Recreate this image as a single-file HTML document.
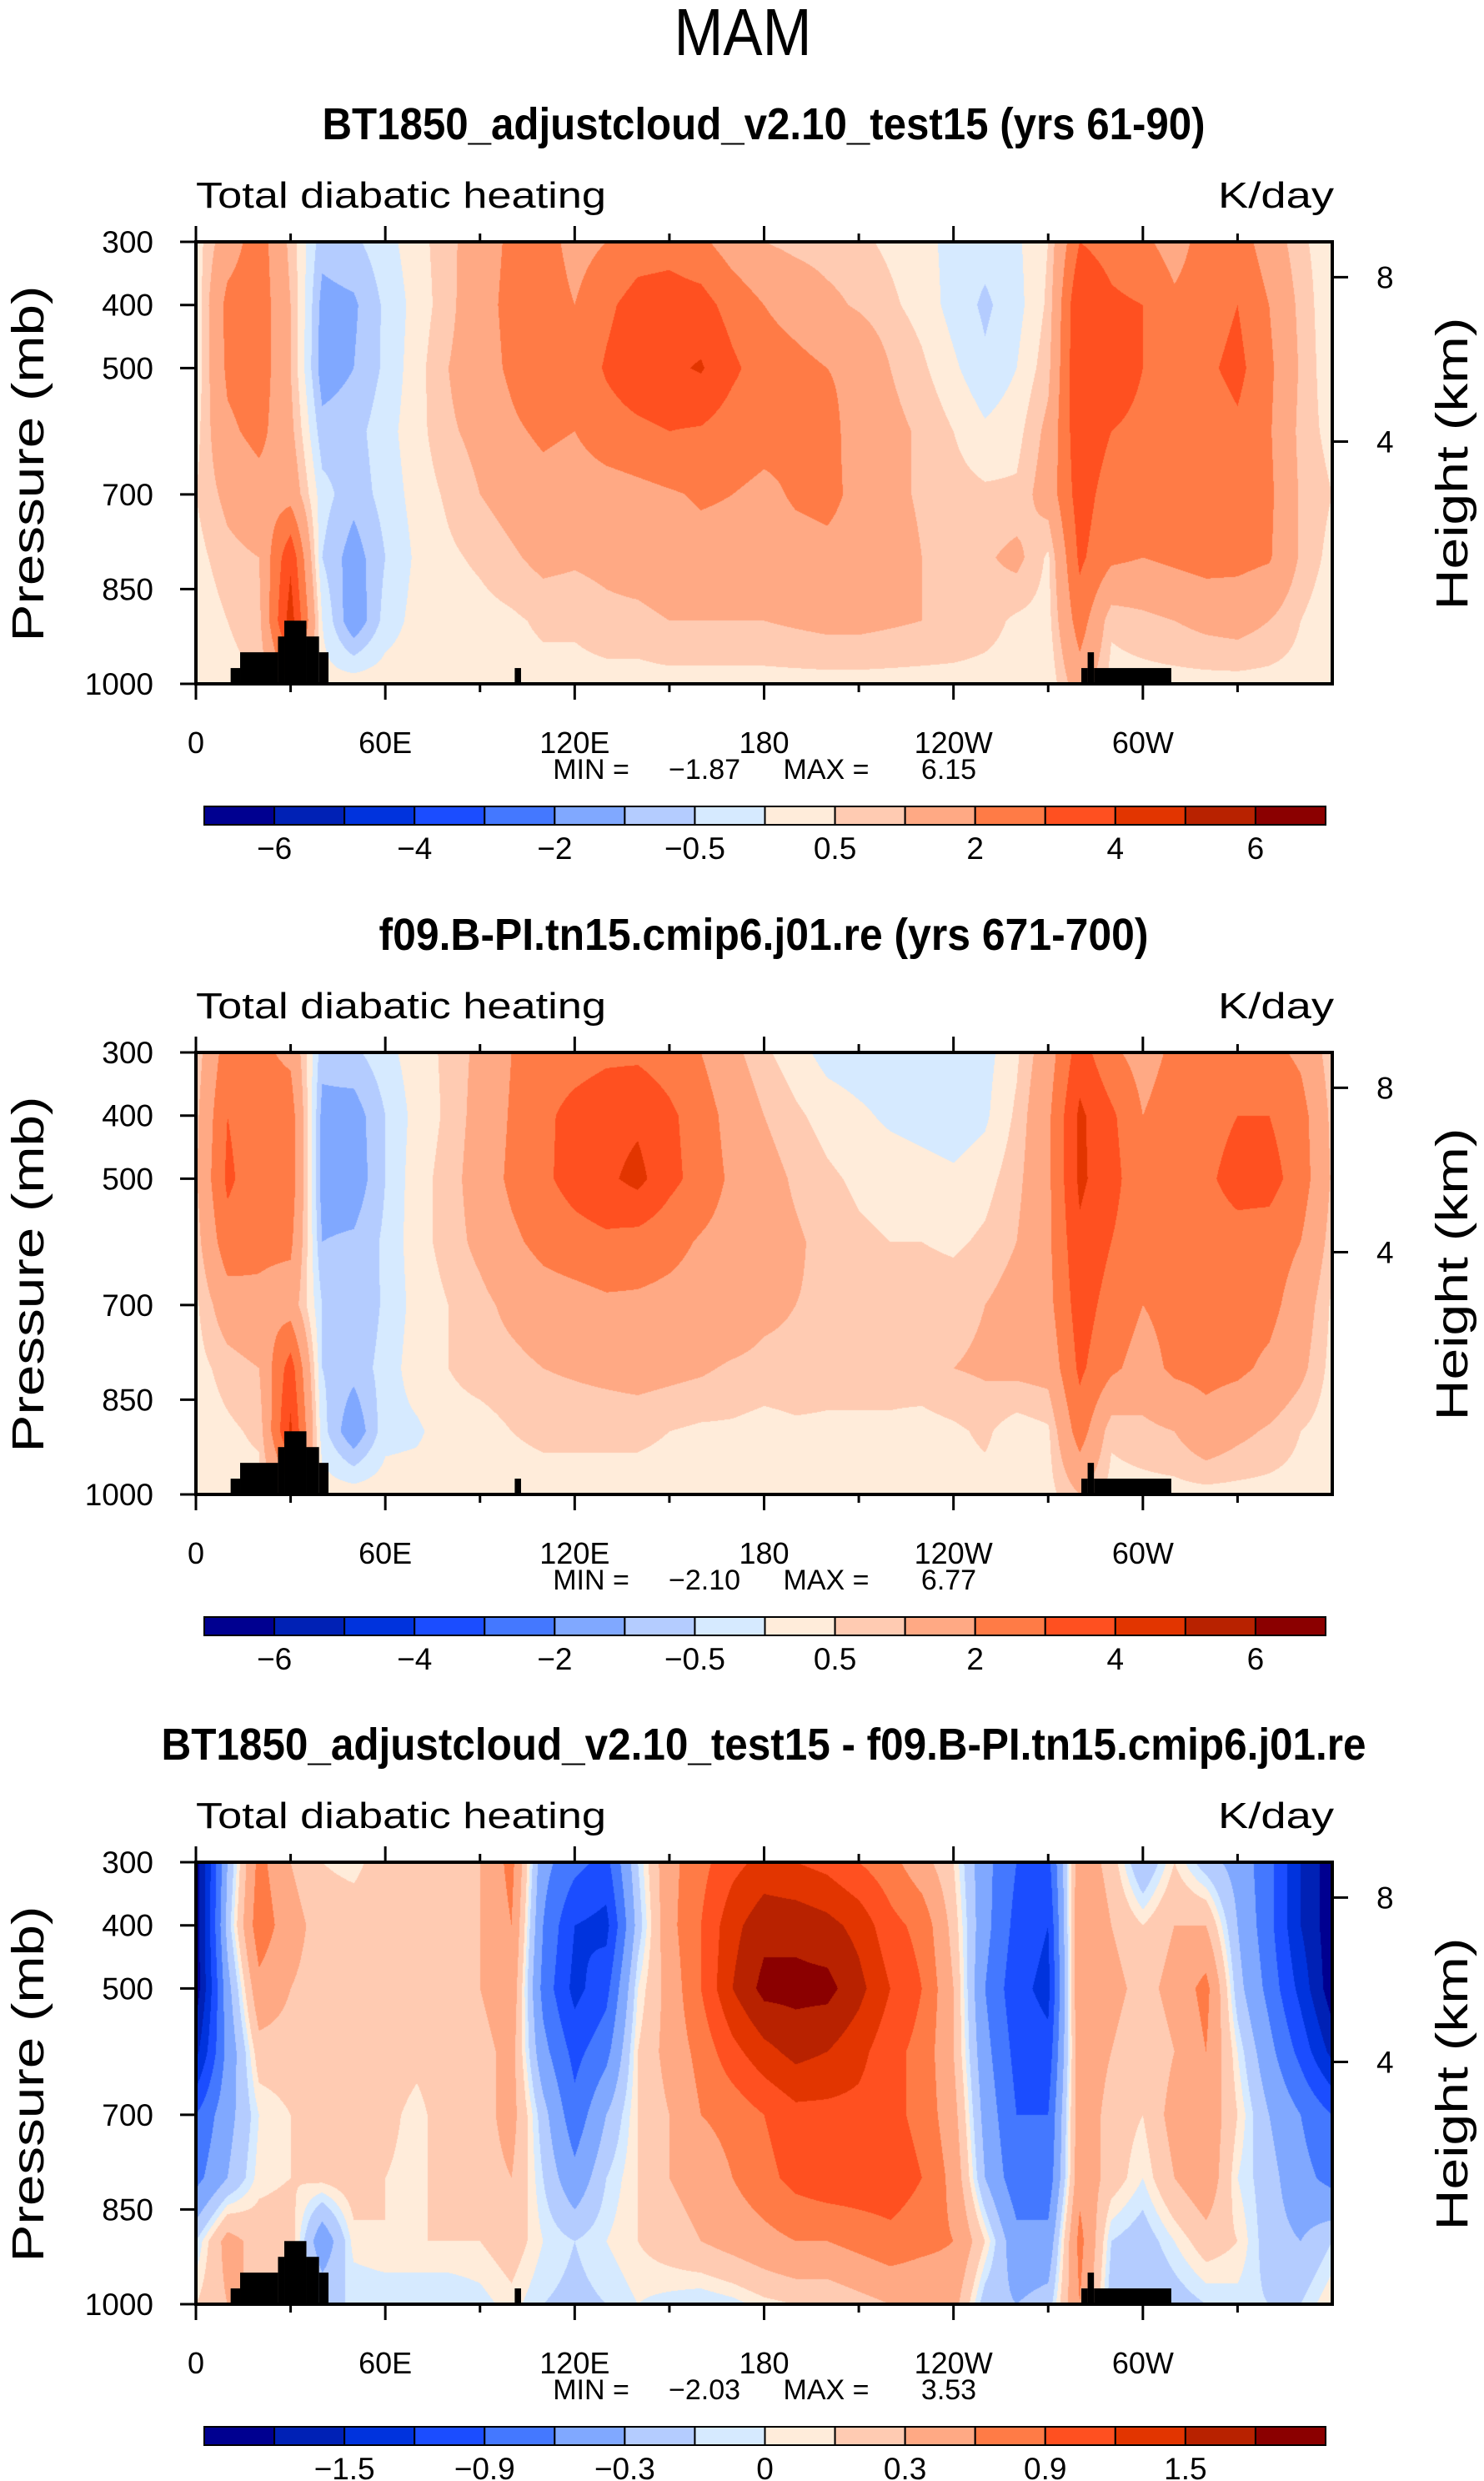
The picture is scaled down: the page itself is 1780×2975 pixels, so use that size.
<!DOCTYPE html>
<html><head><meta charset="utf-8">
<style>
html,body{margin:0;padding:0;background:#fff;}
#wrap{position:relative;width:1780px;height:2975px;overflow:hidden;background:#fff;}
canvas{position:absolute;}
svg{position:absolute;left:0;top:0;}
text{font-family:"Liberation Sans",sans-serif;fill:#000;}
</style></head>
<body>
<div id="wrap">
<canvas id="c0" width="1363" height="530" style="left:235px;top:290px"></canvas>
<canvas id="c1" width="1363" height="530" style="left:235px;top:1262px"></canvas>
<canvas id="c2" width="1363" height="530" style="left:235px;top:2233px"></canvas>
<svg id="s" width="1780" height="2975">
<text x="891" y="66" font-size="80" text-anchor="middle" textLength="165" lengthAdjust="spacingAndGlyphs">MAM</text>
</svg>
</div>
<script>
// ---- data ----
const LONS = [0,10,20,30,40,50,60,70,80,90,100,110,120,130,140,150,160,170,180,190,200,210,220,230,240,250,260,270,280,290,300,310,320,330,340,350,360];
const PLEVS = [300,400,500,600,700,800,900,1000];
const COLORS = ["#000090","#0021B5","#0033DD","#1B4DFF","#4478FF","#80A8FF","#B4CCFF","#D6EAFF","#FFECDA","#FFCBB2","#FFA984","#FF7B46","#FF5020","#E23500","#B82200","#8B0000"];
const LEVELS_ABS = [-6,-5,-4,-3,-2,-1,-0.5,0,0.5,1,2,3,4,5,6];
const LEVELS_DIFF = [-1.8,-1.5,-1.2,-0.9,-0.6,-0.3,-0.1,0,0.1,0.3,0.6,0.9,1.2,1.5,1.8];
const LABELS_ABS = ["−6","−4","−2","−0.5","0.5","2","4","6"];
const LABELS_DIFF = ["−1.5","−0.9","−0.3","0","0.3","0.9","1.5"];
const XTICK_LABELS = ["0","60E","120E","180","120W","60W"];
const XTICK_LONS = [0,60,120,180,240,300];
const PTICKS = [300,400,500,700,850,1000];
const HTICKS = [8,4];
const TITLES = ["BT1850_adjustcloud_v2.10_test15 (yrs 61-90)","f09.B-PI.tn15.cmip6.j01.re (yrs 671-700)","BT1850_adjustcloud_v2.10_test15 - f09.B-PI.tn15.cmip6.j01.re"];
const MINS = ["−1.87","−2.10","−2.03"];
const MAXS = ["6.15","6.77","3.53"];
// terrain: [lon0, lon1, top pressure]
const TERRAIN = [[11,14,975],[14,26,950],[26,28,925],[28,35,900],[35,39,925],[39,42,950],[101,103,975],[280.5,282.5,975],[282.5,284.5,950],[284.5,309,975]];

const F1 = [
[0.2,1.5,2.5,0.8,-0.8,-0.6,-0.2,0.3,0.8,1.5,2.2,2.5,1.6,2.0,2.5,2.6,2.2,1.5,1.0,0.8,0.7,0.6,0.4,0.2,-0.2,-0.3,-0.1,0.5,3.0,2.6,2.2,1.6,2.4,2.5,1.5,0.6,0.2],
[0.1,2.3,2.6,1.0,-1.2,-1.1,-0.4,0.2,0.8,1.6,2.3,2.6,2.0,2.8,3.4,3.5,3.4,2.6,2.0,1.6,1.2,0.9,0.6,0.3,-0.2,-0.6,-0.2,0.6,4.0,3.2,3.0,2.2,2.5,3.0,2.0,0.8,0.1],
[0.1,2.2,2.6,1.0,-1.3,-1.0,-0.4,0.3,1.0,1.5,2.2,3.0,2.4,3.1,3.6,3.8,4.1,3.2,2.5,2.3,2.0,1.8,1.0,0.6,0.1,-0.4,0.0,0.8,4.0,3.5,3.0,2.5,2.8,3.3,2.2,0.9,0.1],
[0.3,1.8,2.3,1.2,-0.8,-0.7,-0.2,0.3,0.9,1.2,1.8,2.2,2.0,2.6,2.8,3.0,2.9,2.5,2.3,2.2,2.3,1.6,1.2,0.9,0.5,0.1,0.3,1.2,3.8,3.0,2.8,2.3,2.4,2.8,2.1,0.8,0.3],
[0.5,1.2,1.6,1.6,-0.3,-0.8,-0.3,0.2,0.6,1.0,1.3,1.6,1.4,1.5,1.7,1.9,2.1,2.0,1.8,2.1,2.2,1.8,1.2,0.9,0.7,0.6,0.6,1.4,3.5,2.5,2.2,2.1,2.3,2.4,2.2,0.9,0.5],
[0.3,0.8,1.0,3.8,-0.5,-1.3,-0.5,0.1,0.4,0.6,0.9,1.2,1.1,1.2,1.4,1.6,1.7,1.7,1.6,1.7,1.8,1.7,1.4,1.0,0.8,0.9,1.2,0.4,3.2,2.2,2.0,2.2,2.4,2.3,2.1,0.9,0.3],
[0.1,0.5,0.8,4.5,0.0,-1.5,-0.3,0.2,0.2,0.3,0.4,0.6,0.6,0.8,0.8,1.0,1.0,1.0,1.0,1.1,1.2,1.2,1.1,1.0,0.9,0.7,0.4,0.3,2.5,0.6,0.8,1.0,1.2,1.3,1.0,0.5,0.1],
[0.3,0.3,0.5,2.0,0.2,0.3,0.3,0.3,0.3,0.3,0.3,0.3,0.3,0.3,0.3,0.3,0.3,0.3,0.3,0.3,0.3,0.3,0.3,0.3,0.3,0.3,0.3,0.1,1.5,0.3,0.3,0.3,0.3,0.3,0.3,0.3,0.3]
];
const F2 = [
[0.6,2.5,2.2,1.8,-0.8,-0.6,-0.2,0.3,0.6,1.2,2.0,2.5,2.6,2.8,2.8,2.5,2.0,1.2,0.6,0.2,-0.2,-0.3,-0.3,-0.3,-0.3,-0.2,0.4,1.5,3.5,2.2,1.6,2.2,2.4,2.5,2.3,1.8,0.6],
[0.8,3.0,2.4,2.5,-1.2,-1.3,-0.5,0.2,0.6,1.3,2.1,2.8,3.3,3.6,3.8,3.2,2.5,1.6,1.0,0.6,0.3,0.1,-0.1,-0.2,-0.3,-0.1,0.6,1.8,4.2,3.2,2.0,2.5,2.6,3.0,3.0,2.4,0.8],
[0.9,3.2,2.4,2.6,-1.3,-1.4,-0.5,0.3,0.7,1.4,2.2,2.8,3.4,3.8,4.3,3.3,2.6,1.8,1.3,0.9,0.6,0.4,0.3,0.2,0.1,0.3,0.8,1.8,4.2,3.4,2.2,2.6,2.8,3.4,3.4,2.5,0.9],
[0.7,2.6,2.2,2.2,-1.0,-0.9,-0.4,0.3,0.7,1.2,1.8,2.3,2.6,2.8,2.6,2.3,1.9,1.6,1.3,1.1,0.8,0.6,0.5,0.5,0.4,0.6,1.0,1.8,3.8,3.0,2.2,2.4,2.5,2.6,2.5,2.0,0.7],
[0.4,1.5,1.8,1.5,-0.5,-1.0,-0.4,0.2,0.5,0.8,1.2,1.5,1.6,1.8,1.8,1.7,1.6,1.6,1.2,1.0,0.9,0.8,0.8,0.8,0.8,1.0,1.3,1.7,3.5,2.6,2.0,2.3,2.4,2.4,2.3,1.5,0.4],
[0.3,0.7,1.0,3.5,-0.5,-0.8,-0.3,0.3,0.5,0.7,0.8,1.0,1.1,1.2,1.3,1.2,1.1,0.9,0.8,0.8,0.7,0.7,0.7,0.8,1.0,1.1,1.2,1.3,3.2,2.2,1.6,2.2,2.3,2.2,1.8,1.2,0.3],
[0.2,0.4,0.6,4.2,-0.3,-1.5,-0.2,-0.1,0.3,0.3,0.5,0.6,0.6,0.6,0.6,0.5,0.4,0.4,0.3,0.4,0.4,0.4,0.4,0.3,0.4,0.6,0.2,0.4,2.5,0.6,0.8,1.0,1.6,1.2,0.9,0.5,0.2],
[0.3,0.3,0.3,1.5,0.3,0.3,0.3,0.3,0.3,0.3,0.3,0.3,0.3,0.3,0.3,0.3,0.3,0.3,0.3,0.3,0.3,0.3,0.3,0.3,0.3,0.3,0.3,0.3,1.0,0.3,0.3,0.3,0.3,0.3,0.3,0.3,0.3]
];
const F3 = [
[-2.0,-0.3,0.7,0.3,0.1,0.05,0.2,0.2,0.2,0.3,0.7,-0.5,-0.8,-1.0,-0.1,0.5,0.8,1.1,1.3,1.2,1.1,0.9,0.7,0.4,0.1,-0.5,-0.9,-1.0,0.5,0.2,-0.3,0.1,-0.2,-0.4,-0.8,-1.5,-2.0],
[-2.0,-0.2,0.8,0.4,0.2,0.2,0.2,0.2,0.2,0.3,0.6,-0.6,-1.2,-1.3,-0.2,0.5,0.9,1.4,1.7,1.7,1.6,1.4,1.0,0.8,0.2,-0.5,-1.0,-1.2,0.6,0.3,0.1,0.3,0.3,-0.3,-0.8,-1.5,-2.0],
[-2.0,-0.4,0.5,0.3,0.2,0.2,0.2,0.2,0.2,0.3,0.5,-0.7,-1.3,-1.0,0.0,0.4,0.9,1.5,1.9,1.9,1.9,1.6,1.2,0.9,0.3,-0.6,-1.1,-1.3,0.6,0.4,0.2,0.4,0.7,-0.2,-0.7,-1.3,-2.0],
[-1.6,-0.5,0.2,0.2,0.15,0.2,0.2,0.15,0.2,0.2,0.4,-0.5,-1.0,-0.7,0.1,0.4,0.7,1.1,1.4,1.6,1.5,1.3,1.0,0.8,0.3,-0.5,-1.0,-1.1,0.5,0.3,0.1,0.3,0.6,0.0,-0.5,-1.0,-1.6],
[-0.9,-0.4,0.0,0.1,0.15,0.2,0.15,0.05,0.2,0.2,0.4,-0.2,-0.8,-0.3,0.1,0.3,0.6,0.7,0.9,1.1,1.1,1.1,1.0,0.8,0.4,-0.4,-0.9,-0.9,0.5,0.2,0.1,0.4,0.5,0.1,-0.3,-0.6,-0.9],
[-0.7,-0.3,0.05,0.1,0.15,0.2,0.1,0.05,0.2,0.2,0.3,-0.1,-0.5,-0.1,0.1,0.3,0.4,0.6,0.8,1.0,1.1,1.1,1.1,0.9,0.5,-0.3,-0.8,-0.8,0.5,0.2,0.0,0.3,0.5,0.0,-0.2,-0.5,-0.7],
[-0.1,0.4,0.2,0.2,-0.5,0.05,0.1,0.1,0.1,0.1,0.2,0.0,-0.1,0.0,0.1,0.2,0.3,0.4,0.5,0.6,0.6,0.7,0.8,0.7,0.6,0.1,-0.5,-0.5,0.7,-0.1,-0.2,0.0,0.2,0.1,-0.2,-0.3,-0.1],
[0.1,0.3,0.3,0.3,-0.1,-0.1,-0.1,-0.1,-0.1,-0.05,0.05,-0.1,-0.15,-0.1,0.0,-0.05,-0.1,-0.05,0.05,0.1,0.1,0.2,0.3,0.3,0.4,-0.2,-0.3,-0.2,0.6,-0.2,-0.3,-0.2,-0.1,-0.05,-0.1,-0.1,0.1]
];
const FIELDS = [F1,F2,F3];
const LEVELSETS = [LEVELS_ABS,LEVELS_ABS,LEVELS_DIFF];
const LABELSETS = [LABELS_ABS,LABELS_ABS,LABELS_DIFF];

// ---- layout ----
const PX0 = 235, PW = 1363, PH = 530;
const PANEL_TOPS = [290,1262,2233];
const NS = "http://www.w3.org/2000/svg";
const svg = document.getElementById('s');
function xS(lon){ return PX0 + lon/360*PW; }
function yS(top,p){ return top + (p-300)/700*PH; }
function hToP(km){ return 1013.25*Math.pow(1-2.25577e-5*km*1000,5.25588); }
function mk(tag, attrs, txt){
  const e = document.createElementNS(NS, tag);
  for (const k in attrs) e.setAttribute(k, attrs[k]);
  if (txt !== undefined) e.textContent = txt;
  svg.appendChild(e);
  return e;
}
function rgb(h){ return [parseInt(h.substr(1,2),16),parseInt(h.substr(3,2),16),parseInt(h.substr(5,2),16)]; }
const RGB = COLORS.map(rgb);

function sample(F, lon, p){
  let fi = lon/10, fj = (p-300)/100;
  let i = Math.min(Math.floor(fi), LONS.length-2), j = Math.min(Math.floor(fj), PLEVS.length-2);
  let tx = fi - i, ty = fj - j;
  let a = F[j][i]*(1-tx)+F[j][i+1]*tx;
  let b = F[j+1][i]*(1-tx)+F[j+1][i+1]*tx;
  return a*(1-ty)+b*ty;
}
function levelIndex(v, L){ let k=0; while(k<L.length && v>=L[k]) k++; return k; }

FIELDS.forEach((F, n) => {
  const cv = document.getElementById('c'+n);
  const ctx = cv.getContext('2d');
  const img = ctx.createImageData(PW, PH);
  const L = LEVELSETS[n];
  for (let py=0; py<PH; py++){
    const p = 300 + (py+0.5)/PH*700;
    for (let px=0; px<PW; px++){
      const lon = (px+0.5)/PW*360;
      const c = RGB[levelIndex(sample(F,lon,p), L)];
      const o = (py*PW+px)*4;
      img.data[o]=c[0]; img.data[o+1]=c[1]; img.data[o+2]=c[2]; img.data[o+3]=255;
    }
  }
  ctx.putImageData(img,0,0);
});

PANEL_TOPS.forEach((top, n) => {
  const bot = top + PH;
  let t;
  t = mk('text',{x:916,y:top-123,'font-size':54,'font-weight':'bold','text-anchor':'middle',textLength:[1059,923,1445][n],lengthAdjust:'spacingAndGlyphs'},TITLES[n]);
   
  t = mk('text',{x:235,y:top-41,'font-size':44,textLength:492,lengthAdjust:'spacingAndGlyphs'},'Total diabatic heating');
   
  t = mk('text',{x:1600,y:top-41,'font-size':44,'text-anchor':'end',textLength:139,lengthAdjust:'spacingAndGlyphs'},'K/day');
   
  // terrain
  TERRAIN.forEach(tr => {
    const r = mk('rect',{x:xS(tr[0]),y:yS(top,tr[2]),width:xS(tr[1])-xS(tr[0]),height:bot-yS(top,tr[2]),fill:'#000'});
     
  });
  // frame
  t = mk('rect',{x:PX0,y:top,width:PW,height:PH,fill:'none',stroke:'#000','stroke-width':4});
   
  // lon ticks
  for (let lon=0; lon<=330; lon+=30){
    const major = lon%60===0, len = major?19:10;
    const a = mk('line',{x1:xS(lon),x2:xS(lon),y1:top,y2:top-len,stroke:'#000','stroke-width':3});
     
    const b = mk('line',{x1:xS(lon),x2:xS(lon),y1:bot,y2:bot+len,stroke:'#000','stroke-width':3});
     
  }
  XTICK_LONS.forEach((lon,k) => {
    const e = mk('text',{x:xS(lon),y:bot+83,'font-size':36,'text-anchor':'middle'},XTICK_LABELS[k]);
     
  });
  // pressure ticks
  PTICKS.forEach(p => {
    const y = yS(top,p);
    const a = mk('line',{x1:PX0-19,x2:PX0,y1:y,y2:y,stroke:'#000','stroke-width':3});
     
    const e = mk('text',{x:184,y:y+13,'font-size':37,'text-anchor':'end'},String(p));
     
  });
  HTICKS.forEach(h => {
    const y = yS(top,hToP(h));
    const a = mk('line',{x1:PX0+PW,x2:PX0+PW+19,y1:y,y2:y,stroke:'#000','stroke-width':3});
     
    const e = mk('text',{x:1651,y:y+13,'font-size':37},String(h));
     
  });
  t = mk('text',{x:0,y:0,'font-size':54,'text-anchor':'middle',textLength:427,lengthAdjust:'spacingAndGlyphs',transform:`translate(52,${top+266}) rotate(-90)`},'Pressure (mb)');
   
  t = mk('text',{x:0,y:0,'font-size':54,'text-anchor':'middle',textLength:351,lengthAdjust:'spacingAndGlyphs',transform:`translate(1760,${top+266}) rotate(-90)`},'Height (km)');
   
  // min max
  const my = top+644;
  [[709,'MIN  ='],[845,MINS[n]],[991,'MAX  ='],[1138,MAXS[n]]].forEach(q => {
    const e = mk('text',{x:q[0],y:my,'font-size':34,'text-anchor':'middle'},q[1]);
     
  });
  // colorbar
  const cbx=245, cbw=1345, cby=top+677, cbh=22, bw=cbw/16;
  COLORS.forEach((c,k) => {
    const r = mk('rect',{x:cbx+k*bw,y:cby,width:bw,height:cbh,fill:c,stroke:'#000','stroke-width':2});
     
  });
  const labs = LABELSETS[n];
  labs.forEach((lab,k) => {
    const bi = n<2 ? 1+2*k : 2+2*k;
    const e = mk('text',{x:cbx+bi*bw,y:cby+63,'font-size':37,'text-anchor':'middle'},lab);
     
  });
});
</script>
</body></html>
